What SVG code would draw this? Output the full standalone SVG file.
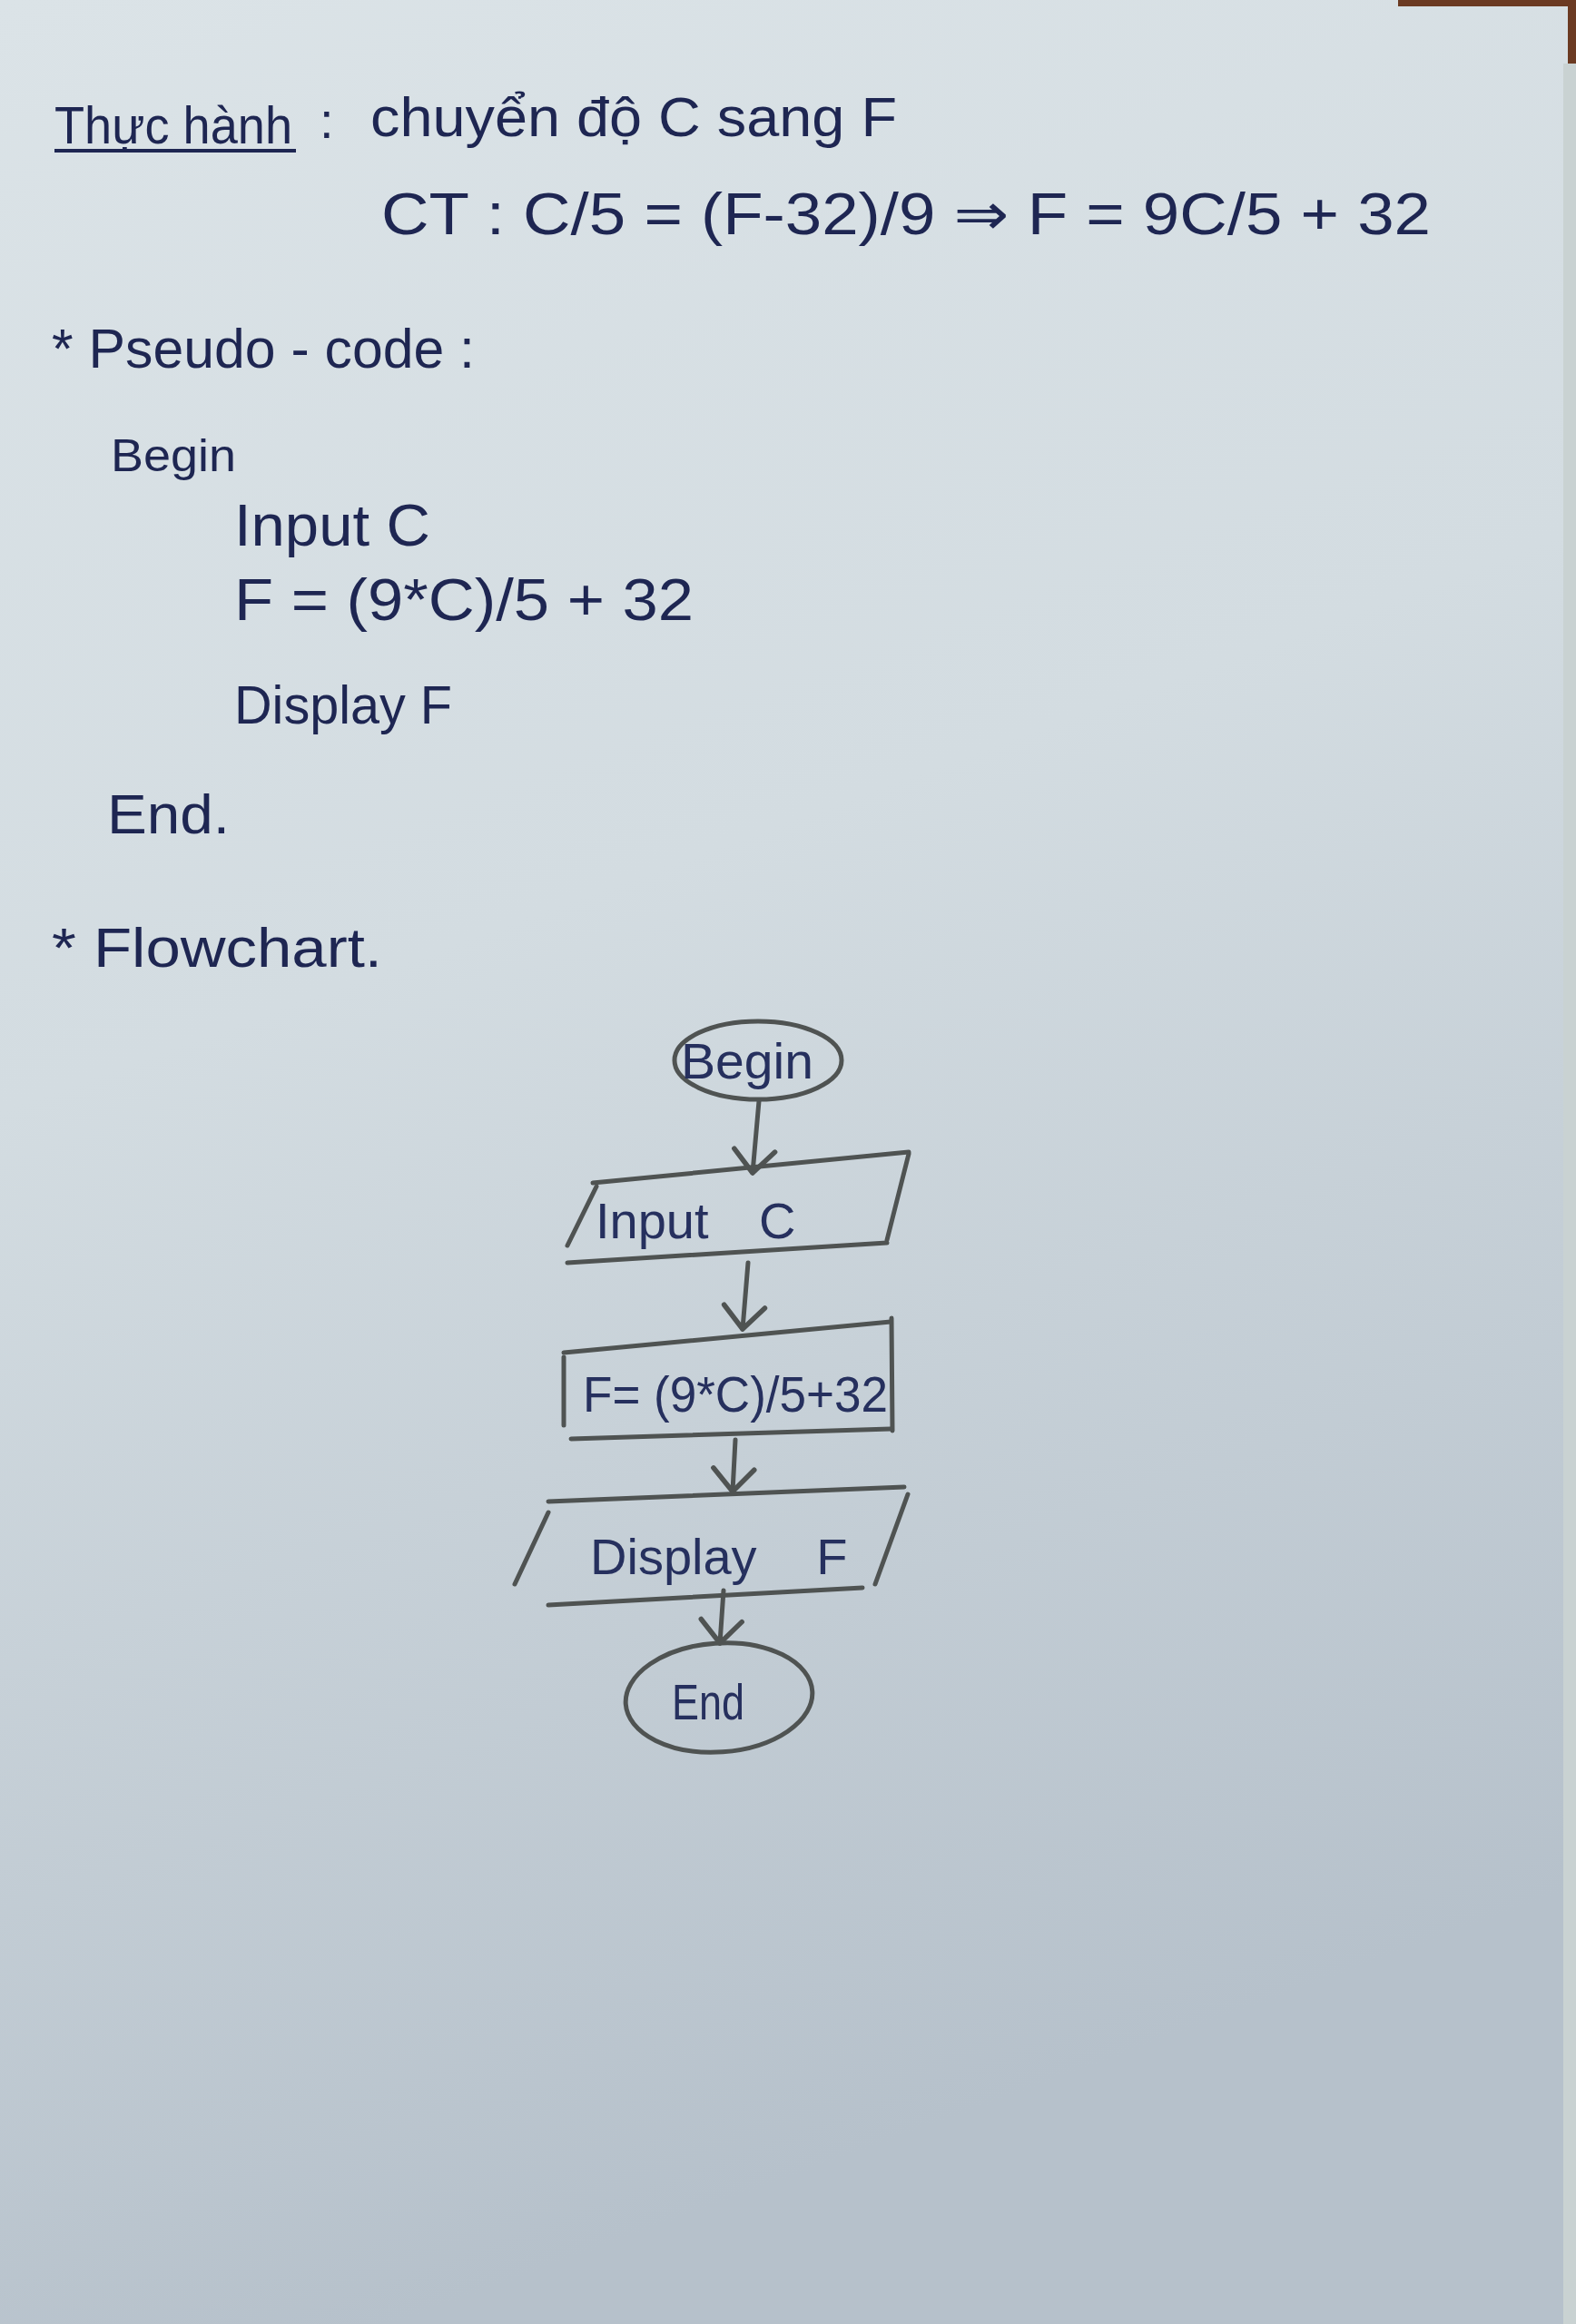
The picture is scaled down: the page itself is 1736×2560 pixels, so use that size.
<svg xmlns="http://www.w3.org/2000/svg" width="1736" height="2560" viewBox="0 0 1736 2560">
<defs>
<linearGradient id="paper" x1="0" y1="0" x2="0.25" y2="1">
<stop offset="0" stop-color="#dbe3e7"/>
<stop offset="0.45" stop-color="#d3dce1"/>
<stop offset="1" stop-color="#b6c1cb"/>
</linearGradient>
<marker id="arr" viewBox="-12 -12 24 24" markerWidth="60" markerHeight="60" refX="0" refY="0" orient="auto" markerUnits="userSpaceOnUse">
<path d="M-10,-9 L0,0 L-10,9" fill="none" stroke="#4f5352" stroke-width="2.2" stroke-linecap="round" stroke-linejoin="round"/>
</marker>
<style>
.ink{font-family:"Liberation Sans","DejaVu Sans",sans-serif;fill:#1e2652}
.pen{fill:none;stroke:#4f5352;stroke-width:5;stroke-linecap:round;stroke-linejoin:round}
.conn{fill:none;stroke:#4f5352;stroke-width:5;stroke-linecap:round}
.fc{font-family:"Liberation Sans","DejaVu Sans",sans-serif;fill:#26305e;font-size:56px}
</style>
</defs>
<rect width="1736" height="2560" fill="url(#paper)"/>
<rect x="1540" y="0" width="196" height="7" fill="#6b3a22"/>
<rect x="1727" y="0" width="9" height="70" fill="#6b3a22"/>
<rect x="1722" y="70" width="14" height="2490" fill="#c9d2d2"/>

<g id="notes">
<text class="ink" x="60" y="158" font-size="58" textLength="262" lengthAdjust="spacingAndGlyphs">Thực hành</text>
<line x1="60" y1="166" x2="326" y2="166" stroke="#1e2652" stroke-width="4"/>
<text class="ink" x="352" y="152" font-size="56">:</text>
<text class="ink" x="408" y="150" font-size="62" textLength="580" lengthAdjust="spacingAndGlyphs">chuyển độ C sang F</text>
<text class="ink" x="420" y="258" font-size="64" textLength="1156" lengthAdjust="spacingAndGlyphs">CT : C/5 = (F-32)/9 ⇒ F = 9C/5 + 32</text>
<text class="ink" x="57" y="405" font-size="62" textLength="466" lengthAdjust="spacingAndGlyphs">* Pseudo - code :</text>
<text class="ink" x="122" y="519" font-size="50" textLength="138" lengthAdjust="spacingAndGlyphs">Begin</text>
<text class="ink" x="258" y="601" font-size="64" textLength="216" lengthAdjust="spacingAndGlyphs">Input C</text>
<text class="ink" x="258" y="683" font-size="64" textLength="506" lengthAdjust="spacingAndGlyphs">F =  (9*C)/5 + 32</text>
<text class="ink" x="258" y="797" font-size="60" textLength="240" lengthAdjust="spacingAndGlyphs">Display F</text>
<text class="ink" x="118" y="918" font-size="62" textLength="135" lengthAdjust="spacingAndGlyphs">End.</text>
<text class="ink" x="57" y="1065" font-size="62" textLength="364" lengthAdjust="spacingAndGlyphs">* Flowchart.</text>
</g>

<g id="connectors">
<path class="conn" d="M836,1213 L829,1292" marker-end="url(#arr)"/>
<path class="conn" d="M824,1391 L818,1464" marker-end="url(#arr)"/>
<path class="conn" d="M810,1586 L807,1643" marker-end="url(#arr)"/>
<path class="conn" d="M797,1752 L793,1810" marker-end="url(#arr)"/>
</g>

<g id="begin">
<ellipse class="pen" cx="835" cy="1168" rx="92" ry="43"/>
<text class="fc" x="750" y="1188" font-size="52" textLength="146" lengthAdjust="spacingAndGlyphs">Begin</text>
</g>

<g id="input">
<path class="pen" d="M653,1303 L1001,1269"/>
<path class="pen" d="M1001,1271 L977,1366"/>
<path class="pen" d="M625,1391 L977,1369"/>
<path class="pen" d="M625,1372 L657,1307"/>
<text class="fc" x="656" y="1364" word-spacing="40">Input C</text>
</g>

<g id="process">
<path class="pen" d="M621,1490 L981,1456"/>
<path class="pen" d="M982,1452 L983,1576"/>
<path class="pen" d="M629,1585 L981,1574"/>
<path class="pen" d="M621,1495 L621,1570"/>
<text class="fc" x="642" y="1555" textLength="336" lengthAdjust="spacingAndGlyphs">F= (9*C)/5+32</text>
</g>

<g id="display">
<path class="pen" d="M604,1654 L996,1638"/>
<path class="pen" d="M1000,1646 L964,1745"/>
<path class="pen" d="M604,1768 L950,1749"/>
<path class="pen" d="M567,1745 L604,1666"/>
<text class="fc" x="650" y="1734" word-spacing="50">Display F</text>
</g>

<g id="end">
<ellipse class="pen" cx="792" cy="1870" rx="103" ry="60" transform="rotate(-4 792 1870)"/>
<text class="fc" x="740" y="1894" font-size="50" textLength="80" lengthAdjust="spacingAndGlyphs">End</text>
</g>
</svg>
